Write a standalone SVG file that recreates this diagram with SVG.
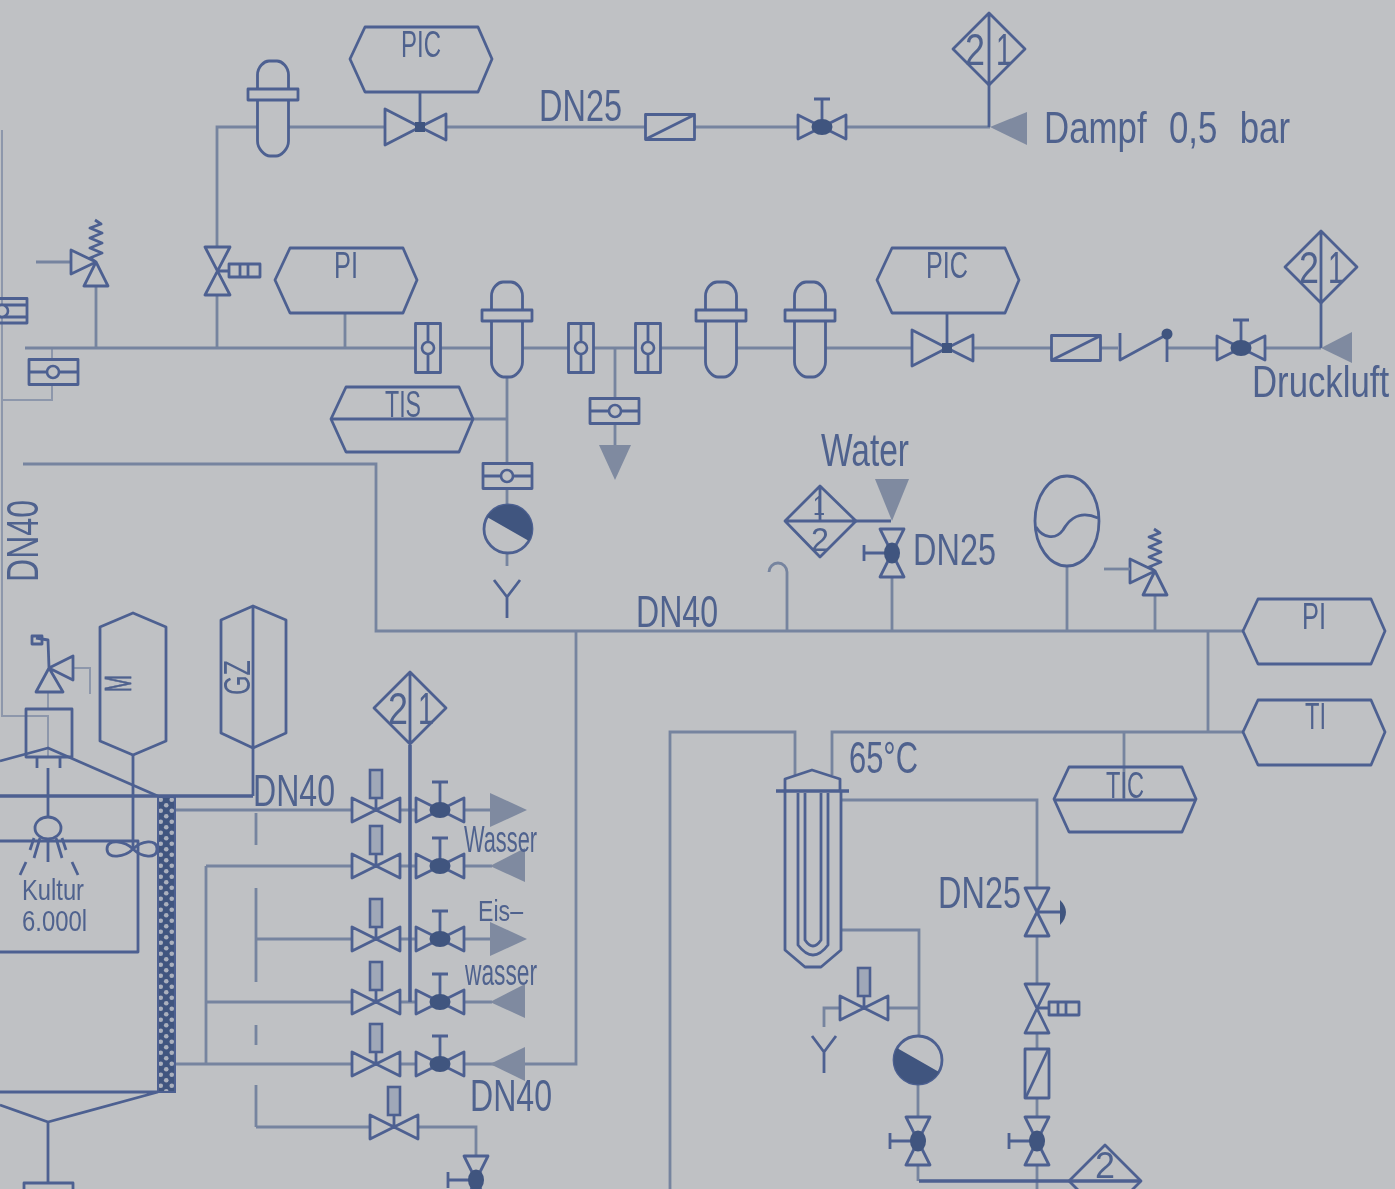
<svg xmlns="http://www.w3.org/2000/svg" width="1395" height="1189" viewBox="0 0 1395 1189">
<style>
.s{fill:none;stroke:#4d6191;stroke-width:2.8;stroke-linejoin:round}
.p{fill:none;stroke:#76849f;stroke-width:2.8}
.q{fill:none;stroke:#8d97ab;stroke-width:2}
.k{fill:none;stroke:#4d6191;stroke-width:3.6}
.d{fill:#40547f;stroke:none}
.a{fill:#7f8aa0;stroke:none}
.b{fill:#bfc1c4;stroke:#4d6191;stroke-width:2.6}
.g{fill:#a0a8b8;stroke:#4d6191;stroke-width:2.6}
text{font-family:"Liberation Sans",Arial,sans-serif;fill:#4f628e;font-size:44px}
.m{font-size:37px}
</style>
<defs>
<filter id="soft" x="-2%" y="-2%" width="104%" height="104%"><feGaussianBlur stdDeviation="0.75"/></filter>
<pattern id="chk" width="11" height="11" patternUnits="userSpaceOnUse" patternTransform="translate(158 797)"><rect width="11" height="11" fill="#40547f"/><circle cx="2.75" cy="2.75" r="2.3" fill="#aab0bd"/><circle cx="8.25" cy="8.25" r="2.3" fill="#aab0bd"/></pattern>
<g id="vm"><path class="s" d="M-24 -12V12L0 0ZM24 -12V12L0 0ZM0 0V-28M-8 -28H8"/><ellipse class="d" rx="10.500" ry="8"/></g>
<g id="va"><path class="s" d="M-24 -12V12L0 0ZM24 -12V12L0 0ZM0 0V-12"/><rect class="g" x="-6" y="-40" width="12" height="28"/></g>
<g id="vc"><path class="s" d="M-35 -18V18L0 0ZM26 -13V13L0 0Z"/><rect class="d" x="-5" y="-5" width="10" height="10"/></g>
<g id="fl"><path class="s" d="M-15.500 -38V-52C-15.500 -60 -9 -66 -4 -66H4C9 -66 15.500 -60 15.500 -52V-38M-15.500 -27V14C-15.500 22 -8 29 -3 29H3C8 29 15.500 22 15.500 14V-27"/><rect class="s" x="-25" y="-38" width="50" height="11"/></g>
<g id="sg"><rect class="s" x="-12.500" y="-24.500" width="25" height="49"/><path class="s" d="M0 -24.500V24.500"/><circle class="b" r="6"/></g>
<g id="st"><path class="s" d="M-24.500 -12.500H24.500V12.500H-24.500ZM24 -12L-24 12"/></g>
<g id="sv"><path class="s" d="M-25 -12V12L0 0ZM-12 24H12L0 0ZM0 0L-6 -4L6 -9L-6 -14L6 -19L-6 -24L6 -29L-6 -34L5 -38L-1 -42"/></g>
<g id="hex"><path class="s" d="M-56 -33H57L71 -1L57 32H-56L-71 -1Z"/></g>
<g id="dia"><path class="s" d="M0 -36L36 0L0 36L-36 0ZM0 -36V36"/></g>
</defs>
<rect id="background" width="1395" height="1189" fill="#bfc1c4"/>
<g filter="url(#soft)">
<g id="connectors">
<path class="q" d="M2 130V716H49M2 400H52V384M52 359V348M48 692V709M48 716V757M73 668H90V694"/>
<path class="p" d="M25 348H416M441 348H492M523 348H568M594 348H635M661 348H706M737 348H795M826 348H912M972 348H1052M1100 348H1118M1168 348H1217M1265 348H1321"/>
<path class="p" d="M217 348V295M217 247V127H258M289 127H385M446 127H645M694 127H798M847 127H990M96 348V286M36 262H71M345 313V348M507 377V463M472 419H507M507 489V505M507 553V566M615 348V398M615 424V450"/>
<path class="p" d="M23 464H376V631H1243M1208 631V732M1243 732H832V775M795 775V732H670V1189M576 631V1064H465M787 631V572A9 9 0 0 0 769 572M892 578V631M1067 566V631M1155 595V631M1124 732V800"/>
<path class="s" d="M856 521H891M253 748V796"/>
<path class="p" d="M175 810H352M175 1064H352M206 866V1064M206 866H352M206 1002H352M401 810H416M401 866H416M401 939H416M401 1002H416M401 1064H416M465 810H492M465 866H492M465 939H492M465 1002H492M256 939H352M256 1127H370M419 1127H476V1155"/>
<path class="p" d="M256 813V845M256 888V982M256 1025V1045M256 1085V1127"/>
<path class="p" d="M841 800H1037V888M1037 936V984M1037 1033V1049M1037 1098V1117M1037 1166V1189M841 930H919V1036M889 1008H919M840 1008H824V1027M918 1084V1117M918 1166V1181"/>
<path class="k" d="M919 1181H1141"/>
</g>
<g id="steam-separator"><use href="#fl" x="273" y="127"/></g>
<g id="pic-top"><use href="#hex" x="421" y="60"/><path class="s" d="M420 92V127"/><text class="m" x="401" y="57" textLength="40" lengthAdjust="spacingAndGlyphs">PIC</text></g>
<g id="steam-control-valve"><use href="#vc" x="420" y="127"/></g>
<g id="steam-label"><text x="539" y="121" textLength="83" lengthAdjust="spacingAndGlyphs">DN25</text></g>
<g id="steam-strainer"><use href="#st" x="670" y="127"/></g>
<g id="steam-valve"><use href="#vm" x="822" y="127"/></g>
<g id="steam-diamond"><use href="#dia" x="989" y="49"/><path class="s" d="M989 85V127"/><text x="965" y="65" textLength="20" lengthAdjust="spacingAndGlyphs">2</text><text x="996" y="65" textLength="16" lengthAdjust="spacingAndGlyphs">1</text></g>
<g id="steam-arrow"><path class="a" d="M990 127L1027 112V145Z"/><text x="1044" y="143" word-spacing="16" textLength="246" lengthAdjust="spacingAndGlyphs">Dampf 0,5 bar</text></g>

<g id="air-left-gauge"><path class="s" d="M0 298.500H27V323H0M0 305H27M0 317H27"/><circle class="b" cx="2" cy="311" r="6"/></g>
<g id="air-sight-h"><rect class="s" x="29" y="359.500" width="49" height="25"/><path class="s" d="M29 372H78"/><circle class="b" cx="53" cy="372" r="6"/></g>
<g id="air-safety"><use href="#sv" x="96" y="262"/></g>
<g id="air-valve"><path class="s" d="M205 247H230L205 295H230Z"/><rect class="s" x="229" y="264" width="31" height="13"/><path class="s" d="M217 271H229M240 264V277M248 264V277"/></g>
<g id="pi-air"><use href="#hex" x="346" y="281"/><text class="m" x="334" y="278" textLength="24" lengthAdjust="spacingAndGlyphs">PI</text></g>
<g id="sight-1"><use href="#sg" x="428" y="348"/></g>
<g id="filter-1"><use href="#fl" x="507" y="348"/></g>
<g id="sight-2"><use href="#sg" x="581" y="348"/></g>
<g id="sight-3"><use href="#sg" x="648" y="348"/></g>
<g id="filter-2"><use href="#fl" x="721" y="348"/></g>
<g id="filter-3"><use href="#fl" x="810" y="348"/></g>
<g id="tis"><use href="#hex" x="402" y="420"/><path class="s" d="M331 419H472"/><text class="m" x="385" y="417" textLength="36" lengthAdjust="spacingAndGlyphs">TIS</text></g>
<g id="gauge-507"><rect class="s" x="483" y="463.500" width="49" height="25"/><path class="s" d="M483 476H532"/><circle class="b" cx="507" cy="476" r="6"/></g>
<g id="pump-1"><circle class="s" cx="508" cy="529" r="24"/><path class="d" d="M487 517A24 24 0 0 1 529 541Z"/></g>
<g id="vent-1"><path class="s" d="M494 580L507 597L520 580M507 597V618"/></g>
<g id="gauge-615"><rect class="s" x="590" y="398.500" width="49" height="25"/><path class="s" d="M590 411H639"/><circle class="b" cx="615" cy="411" r="6"/><path class="a" d="M599 445H631L615 480Z"/></g>
<g id="pic-air"><use href="#hex" x="948" y="281"/><path class="s" d="M947 313V348"/><text class="m" x="926" y="278" textLength="42" lengthAdjust="spacingAndGlyphs">PIC</text></g>
<g id="air-control-valve"><use href="#vc" x="947" y="348"/></g>
<g id="air-strainer"><use href="#st" x="1076" y="348"/></g>
<g id="check-valve"><path class="s" d="M1120 333V360L1166 335M1167 335V362"/><circle class="d" cx="1167" cy="334" r="5.500"/></g>
<g id="air-valve-2"><use href="#vm" x="1241" y="348"/></g>
<g id="air-diamond"><use href="#dia" x="1321" y="267"/><path class="s" d="M1321 303V348"/><text x="1299" y="283" textLength="20" lengthAdjust="spacingAndGlyphs">2</text><text x="1328" y="283" textLength="16" lengthAdjust="spacingAndGlyphs">1</text></g>
<g id="air-arrow"><path class="a" d="M1321 348L1352 332V363Z"/><text transform="translate(1252 397) scale(.79 1)">Druckluft</text></g>

<g id="dn40-rotated"><text transform="translate(38 582) rotate(-90)" textLength="82" lengthAdjust="spacingAndGlyphs">DN40</text></g>
<g id="dn40-main"><text x="636" y="627" textLength="82" lengthAdjust="spacingAndGlyphs">DN40</text></g>
<g id="water-diamond"><path class="s" d="M820 486L856 521L820 557L785 521ZM785 521H856M820 486V521"/><text x="813" y="515" style="font-size:28px" textLength="12" lengthAdjust="spacingAndGlyphs">1</text><text x="811" y="551" style="font-size:34px" textLength="18" lengthAdjust="spacingAndGlyphs">2</text></g>
<g id="water-arrow"><path class="a" d="M875 479H909L892 521Z"/><text x="821" y="466" style="font-size:46px" textLength="88" lengthAdjust="spacingAndGlyphs">Water</text></g>
<g id="water-valve"><use href="#vm" transform="translate(892 553) rotate(-90)"/><text x="913" y="565" textLength="83" lengthAdjust="spacingAndGlyphs">DN25</text></g>
<g id="expansion"><ellipse class="s" cx="1067" cy="521" rx="32" ry="45"/><path class="s" d="M1036 527C1042 537 1055 541 1063 530C1070 518 1080 510 1098 518"/></g>
<g id="safety-2"><use href="#sv" x="1155" y="571"/><path class="p" d="M1104 569H1130"/></g>
<g id="pi-right"><use href="#hex" x="1314" y="632"/><text class="m" x="1302" y="629" textLength="24" lengthAdjust="spacingAndGlyphs">PI</text></g>
<g id="ti-right"><use href="#hex" x="1314" y="733"/><text class="m" x="1305" y="729" textLength="21" lengthAdjust="spacingAndGlyphs">TI</text></g>
<g id="tic"><use href="#hex" x="1125" y="800"/><path class="s" d="M1054 800H1195"/><text class="m" x="1106" y="798" textLength="38" lengthAdjust="spacingAndGlyphs">TIC</text></g>
<g id="temp-label"><text x="849" y="773" textLength="69" lengthAdjust="spacingAndGlyphs">65°C</text></g>
<g id="heat-exchanger"><path class="s" d="M785 790V779L812 770L840 779V790M785 790V950L805 967H821L841 950V790"/><path class="k" d="M776 791H849"/><path class="s" d="M798 793V945Q813 965 828 945V793M805 793V940Q813 952 821 940V793"/></g>
<g id="valve-1037-a"><path class="s" d="M1025 888H1049L1025 936H1049ZM1037 912H1061"/><path class="d" d="M1060 900Q1072 912 1060 925Z"/><text x="938" y="908" textLength="83" lengthAdjust="spacingAndGlyphs">DN25</text></g>
<g id="valve-1037-b"><path class="s" d="M1025 984H1049L1025 1033H1049Z"/><rect class="s" x="1049" y="1002" width="30" height="13"/><path class="s" d="M1037 1008H1049M1058 1002V1015M1066 1002V1015"/></g>
<g id="strainer-1037"><rect class="s" x="1025" y="1049" width="24" height="49"/><path class="s" d="M1026 1097L1048 1050"/></g>
<g id="valve-1037-c"><use href="#vm" transform="translate(1037 1141) rotate(-90)"/></g>
<g id="valve-918"><use href="#vm" transform="translate(918 1141) rotate(-90)"/></g>
<g id="pump-2"><circle class="s" cx="918" cy="1060" r="24"/><path class="d" d="M897 1048A24 24 0 0 0 939 1072Z"/></g>
<g id="drain-valve"><use href="#va" x="864" y="1008"/><path class="s" d="M812 1036L824 1052L836 1036M824 1052V1073"/></g>
<g id="diamond-bottom"><path class="s" d="M1105 1145L1141 1181L1105 1217L1069 1181Z"/><text class="m" x="1095" y="1178" textLength="20" lengthAdjust="spacingAndGlyphs">2</text></g>

<g id="tank"><rect class="s" x="26" y="709" width="46" height="48"/><path class="s" d="M37 757V768M60 757V768M0 761L48 748L160 797"/><path class="k" d="M0 796H253"/><path class="s" d="M48 768V817M0 841H138V952H0M0 1092H158M0 1105L48 1122L158 1092M48 1122V1182"/><ellipse class="s" cx="48" cy="828" rx="13" ry="11"/><path class="s" d="M40 838L34 858M48 840V862M56 838L62 858M34 838L30 850M26 862L20 875M62 838L66 850M72 862L78 875"/><path class="s" d="M133 755V849"/><path class="s" d="M133 849C125 841 107 838 107 849C107 860 125 857 133 849C141 841 157 838 157 849C157 860 141 857 133 849Z"/><rect x="158" y="797" width="17" height="295" fill="url(#chk)" stroke="#4d6191" stroke-width="2"/><text x="22" y="900" style="font-size:29px" textLength="62" lengthAdjust="spacingAndGlyphs">Kultur</text><text x="22" y="931" style="font-size:29px" textLength="65" lengthAdjust="spacingAndGlyphs">6.000l</text><path class="s" d="M24 1189V1183H73V1189"/></g>
<g id="tank-valve"><path class="s" d="M49 668L36 692H63ZM49 668L73 656V680ZM49 668L48 640L36 638"/><rect class="s" x="32" y="636" width="10" height="8"/></g>
<g id="m-instrument"><path class="s" d="M133 613L166 627V741L133 755L100 741V627Z"/><text class="m" transform="translate(131 692) rotate(-90)" stroke="#4f628e" stroke-width=".8" textLength="17" lengthAdjust="spacingAndGlyphs">M</text></g>
<g id="gz-instrument"><path class="s" d="M253 606L286 620V733L253 748L221 733V620ZM253 606V748"/><text class="m" transform="translate(250 695) rotate(-90)" textLength="35" lengthAdjust="spacingAndGlyphs">GZ</text></g>
<g id="dn40-top"><text x="253" y="806" textLength="82" lengthAdjust="spacingAndGlyphs">DN40</text></g>
<g id="water-diamond-2"><use href="#dia" x="410" y="708"/><path class="k" d="M410 745V1002"/><text x="388" y="724" textLength="20" lengthAdjust="spacingAndGlyphs">2</text><text x="418" y="724" textLength="16" lengthAdjust="spacingAndGlyphs">1</text></g>
<g id="row-1"><use href="#va" x="376" y="810"/><use href="#vm" x="440" y="810"/><path class="a" d="M490 793L527 810L490 827Z"/></g>
<g id="row-2"><use href="#va" x="376" y="866"/><use href="#vm" x="440" y="866"/><path class="a" d="M490 866L525 848V882Z"/><text x="464" y="852" style="font-size:36px" textLength="73" lengthAdjust="spacingAndGlyphs">Wasser</text></g>
<g id="row-3"><use href="#va" x="376" y="939"/><use href="#vm" x="440" y="939"/><path class="a" d="M490 922L527 939L490 956Z"/><text x="478" y="921" style="font-size:30px" textLength="45" lengthAdjust="spacingAndGlyphs">Eis–</text></g>
<g id="row-4"><use href="#va" x="376" y="1002"/><use href="#vm" x="440" y="1002"/><path class="a" d="M490 1002L525 984V1018Z"/><text x="465" y="985" style="font-size:36px" textLength="72" lengthAdjust="spacingAndGlyphs">wasser</text></g>
<g id="row-5"><use href="#va" x="376" y="1064"/><use href="#vm" x="440" y="1064"/><path class="a" d="M490 1064L525 1047V1081Z"/><text x="470" y="1111" textLength="82" lengthAdjust="spacingAndGlyphs">DN40</text></g>
<g id="bottom-valve"><use href="#va" x="394" y="1127"/></g>
<g id="bottom-hand-valve"><use href="#vm" transform="translate(476 1180) rotate(-90)"/></g>
</g>
</svg>
